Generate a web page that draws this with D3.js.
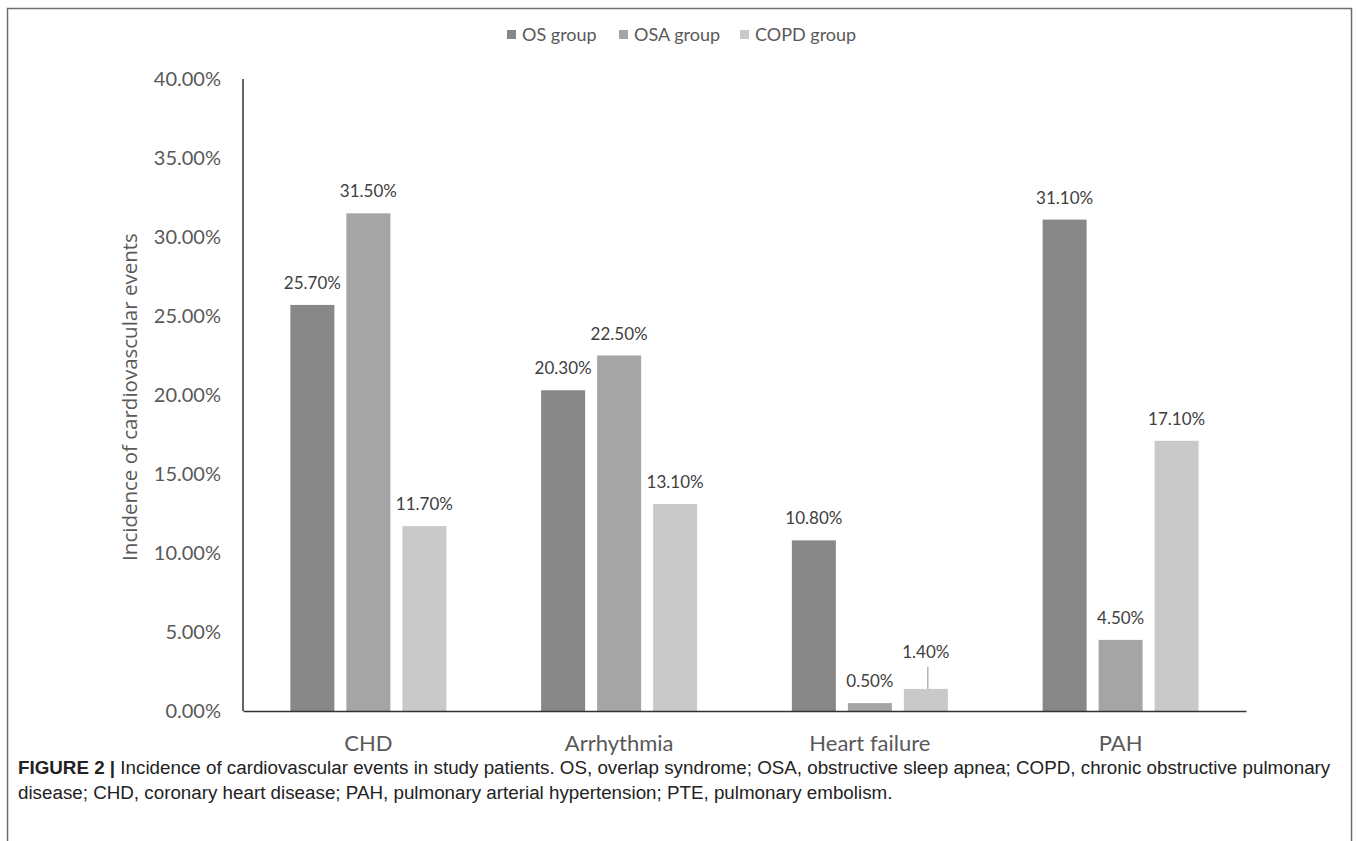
<!DOCTYPE html>
<html>
<head>
<meta charset="utf-8">
<script src="https://cdn.jsdelivr.net/npm/d3@7"></script>
<style>
  html, body { margin: 0; padding: 0; background: #fff; }
  svg { display: block; }
</style>
</head>
<body>
<svg id="chart" width="1358" height="841"></svg>
<script>
// Incidence of cardiovascular events (%) by event type and patient group
const categories = ["CHD", "Arrhythmia", "Heart failure", "PAH"];
const seriesNames = ["OS group", "OSA group", "COPD group"];
const osGroup   = [25.7, 20.3, 10.8, 31.1];
const osaGroup  = [31.5, 22.5, 0.5, 4.5];
const copdGroup = [11.7, 13.1, 1.4, 17.1];
const yTicks = [0, 5, 10, 15, 20, 25, 30, 35, 40];

const seriesValues = [osGroup, osaGroup, copdGroup];
const colors = ["#878787", "#a5a5a5", "#c9c9c9"];

const svg = d3.select("#chart");
const fontChart = "Lato, 'Open Sans', sans-serif";

// outer frame
svg.append("rect")
  .attr("x", 7.5).attr("y", 8.5)
  .attr("width", 1344).attr("height", 860)
  .attr("fill", "none").attr("stroke", "#6e6e6e").attr("stroke-width", 1.5);

const plot = { left: 243, right: 1246, top: 79, bottom: 711 };

const y = d3.scaleLinear().domain([0, 40]).range([plot.bottom, plot.top]);
const x0 = d3.scaleBand().domain(categories).range([plot.left, plot.right]).padding(0);
const x1 = d3.scaleBand().domain(seriesNames).range([0, x0.bandwidth()])
  .paddingInner(0.2143).paddingOuter(0.846);

const fmt = v => v.toFixed(2) + "%";

// y axis labels
const yAxis = d3.axisLeft(y).tickValues(yTicks).tickSize(0).tickPadding(22).tickFormat(fmt);
const gy = svg.append("g").attr("transform", `translate(${plot.left},0)`).call(yAxis);
gy.select(".domain").remove();
gy.selectAll("text")
  .attr("font-family", fontChart).attr("font-size", 20).attr("fill", "#595959");

// bars
const data = [];
categories.forEach((c, i) => seriesNames.forEach((s, j) => data.push({ cat: c, series: s, value: seriesValues[j][i], idx: j })));

svg.append("g").selectAll("rect").data(data).join("rect")
  .attr("x", d => x0(d.cat) + x1(d.series))
  .attr("y", d => y(d.value))
  .attr("width", x1.bandwidth())
  .attr("height", d => y(0) - y(d.value))
  .attr("fill", d => colors[d.idx]);

// value labels; one label is lifted and tied back to its bar with a leader line
const lifted = { "Heart failure|COPD group": 15 };
const labels = svg.append("g");
data.forEach(d => {
  const cx = x0(d.cat) + x1(d.series) + x1.bandwidth() / 2;
  const lift = lifted[d.cat + "|" + d.series] || 0;
  const base = y(d.value) - 16 - lift;
  labels.append("text")
    .attr("x", cx).attr("y", base)
    .attr("text-anchor", "middle")
    .attr("font-family", fontChart).attr("font-size", 17).attr("fill", "#404040")
    .text(fmt(d.value));
  if (lift) {
    labels.append("line")
      .attr("x1", cx + 2).attr("x2", cx + 2)
      .attr("y1", base + 9).attr("y2", y(d.value))
      .attr("stroke", "#8c8c8c").attr("stroke-width", 1);
  }
});

// axis lines
svg.append("line")
  .attr("x1", plot.left).attr("x2", plot.left)
  .attr("y1", plot.top).attr("y2", plot.bottom)
  .attr("stroke", "#333").attr("stroke-width", 1.5);
const xAxis = d3.axisBottom(x0).tickSize(0).tickPadding(24);
const gx = svg.append("g").attr("transform", `translate(0,${plot.bottom})`).call(xAxis);
gx.select(".domain").attr("stroke", "#333").attr("stroke-width", 1.5);
gx.selectAll("text")
  .attr("font-family", fontChart).attr("font-size", 22).attr("fill", "#595959");

// y axis title
svg.append("text")
  .attr("transform", `translate(137,${(plot.top + plot.bottom) / 2 + 2}) rotate(-90)`)
  .attr("text-anchor", "middle")
  .attr("font-family", "'Open Sans', Lato, sans-serif").attr("font-size", 20.5).attr("fill", "#595959")
  .text("Incidence of cardiovascular events");

// legend
const legendX = [507, 619, 740];
const legend = svg.append("g");
seriesNames.forEach((s, i) => {
  legend.append("rect")
    .attr("x", legendX[i]).attr("y", 30)
    .attr("width", 9).attr("height", 9)
    .attr("fill", colors[i]);
  legend.append("text")
    .attr("x", legendX[i] + 15).attr("y", 40.5)
    .attr("font-family", fontChart).attr("font-size", 18).attr("fill", "#595959")
    .text(s);
});

// caption
const cap = svg.append("g").attr("font-family", "'Liberation Sans', Arial, sans-serif").attr("font-size", 18.8).attr("fill", "#222");
const line1 = cap.append("text").attr("x", 18).attr("y", 774);
line1.append("tspan").attr("font-weight", "bold").text("FIGURE 2");
line1.append("tspan").attr("font-weight", "bold").text(" | ");
line1.append("tspan").text("Incidence of cardiovascular events in study patients. OS, overlap syndrome; OSA, obstructive sleep apnea; COPD, chronic obstructive pulmonary");
cap.append("text").attr("x", 18).attr("y", 799)
  .text("disease; CHD, coronary heart disease; PAH, pulmonary arterial hypertension; PTE, pulmonary embolism.");
</script>
</body>
</html>
